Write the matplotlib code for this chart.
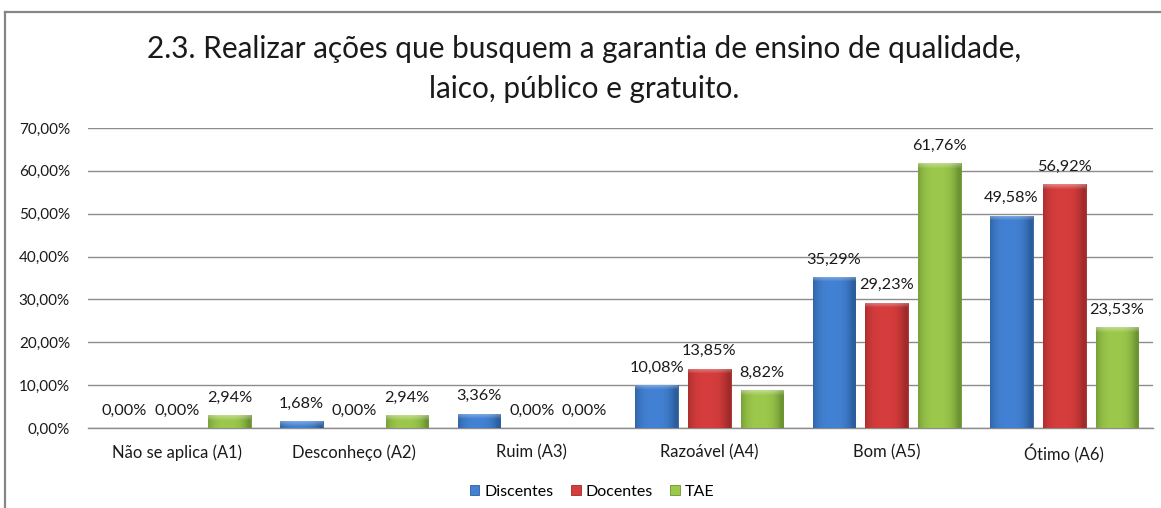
import numpy as np
import matplotlib
matplotlib.use("Agg")
import matplotlib.pyplot as plt
from matplotlib.patches import Patch
from matplotlib.lines import Line2D
from matplotlib.colors import to_rgb

categories = ["Não se aplica (A1)", "Desconheço (A2)", "Ruim (A3)",
              "Razoável (A4)", "Bom (A5)", "Ótimo (A6)"]
series_names = ["Discentes", "Docentes", "TAE"]
discentes = [0.0, 1.68, 3.36, 10.08, 35.29, 49.58]
docentes = [0.0, 0.0, 0.0, 13.85, 29.23, 56.92]
tae = [2.94, 2.94, 0.0, 8.82, 61.76, 23.53]
y_ticks = [0, 10, 20, 30, 40, 50, 60, 70]
title = "2.3. Realizar ações que busquem a garantia de ensino de qualidade,\nlaico, público e gratuito."

series = [discentes, docentes, tae]
mid_colors = ["#4281d3", "#d63d3d", "#9cc84c"]
edge_colors = ["#2c5d9c", "#a12a2a", "#6c9432"]

plt.rcParams['font.family'] = ['Lato', 'DejaVu Sans']

W, H = 1161, 508
fig = plt.figure(figsize=(W / 100, H / 100), dpi=100)
ax = fig.add_axes([88 / W, 80 / H, 1065 / W, 300 / H])

ymax = 70.0
px_per_unit = 300 / ymax
width = 0.24
pitch = 0.297


def shade(base, edge, n_cols, n_rows, top_px):
    b = np.array(to_rgb(base))
    e = np.array(to_rgb(edge))
    xs = np.linspace(-1, 1, n_cols)
    prof = np.clip(np.abs(xs - (-0.1)) ** 3 * 1.0, 0, 1)
    row = b[None, :] * (1 - prof[:, None]) + e[None, :] * prof[:, None]
    img = np.repeat(row[None, :, :], n_rows, axis=0)
    for r in range(min(top_px, n_rows)):
        t = 0.35 * (1 - r / max(top_px, 1))
        img[r] = img[r] * (1 - t) + t
    return np.clip(img, 0, 1)


for si, (vals, mc, ec) in enumerate(zip(series, mid_colors, edge_colors)):
    xs = np.arange(len(categories)) + (si - 1) * pitch
    bars = ax.bar(xs, vals, width=width, color=mc, edgecolor=ec, linewidth=0.6, zorder=3)
    for b, v in zip(bars, vals):
        if v > 0:
            x0 = b.get_x()
            hpx = max(int(round(v * px_per_unit)), 2)
            img = shade(mc, ec, 40, hpx, 5)
            im = ax.imshow(img, extent=(x0, x0 + width, 0, v), aspect='auto',
                           origin='upper', zorder=3.5, interpolation='bilinear')
            im.set_clip_path(b)
        ax.annotate(f"{v:.2f}%".replace('.', ','), (b.get_x() + width / 2, v),
                    xytext=(0, 12.5), textcoords='offset points',
                    ha='center', va='center', fontsize=11.7, color='#1a1a1a', zorder=5)

ax.set_xlim(-0.5, len(categories) - 0.5)
ax.set_ylim(0, ymax)
ax.set_yticks(y_ticks)
ax.set_yticklabels([f"{t:.2f}%".replace('.', ',') for t in y_ticks])
ax.set_xticks(range(len(categories)))
ax.set_xticklabels(categories)
ax.tick_params(axis='both', length=0, colors='#1a1a1a')
ax.tick_params(axis='y', pad=13, labelsize=11)
ax.tick_params(axis='x', pad=11.5, labelsize=11.9)
ax.grid(axis='y', color='#8c8c8c', linewidth=1.0, zorder=0)
ax.set_axisbelow(True)
for s in ['top', 'right', 'left']:
    ax.spines[s].set_visible(False)
ax.spines['bottom'].set_color('#8c8c8c')
ax.spines['bottom'].set_linewidth(1.0)

fig.text(584 / W, 1 - 69 / H, title, ha='center', va='center', fontsize=21.4,
         color='#1a1a1a', linespacing=1.55)

handles = [Patch(facecolor=mc, edgecolor=ec, linewidth=0.6) for mc, ec in zip(mid_colors, edge_colors)]
fig.legend(handles, series_names, loc='center', bbox_to_anchor=(592 / W, 1 - 492 / H),
           ncol=3, frameon=False, fontsize=11.5, handlelength=0.6, handleheight=0.6,
           handletextpad=0.3, columnspacing=1.1)

fig.add_artist(Line2D([5 / W, 5 / W], [0, 1 - 11.5 / H], color='#868686', linewidth=1.6))
fig.add_artist(Line2D([5 / W, 1], [1 - 11.5 / H, 1 - 11.5 / H], color='#868686', linewidth=1.6))

fig.savefig("out.png", dpi=100)
